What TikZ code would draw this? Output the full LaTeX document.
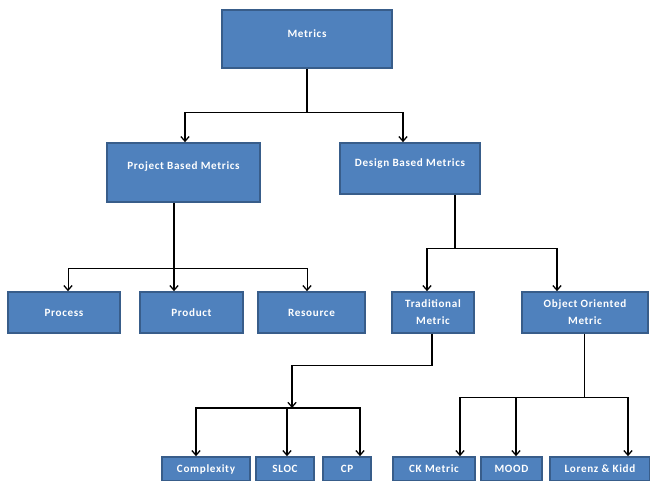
\documentclass[tikz,border=0pt]{standalone}
\usepackage{fontspec}
\setmainfont{Carlito}[LetterSpace=6]
\usetikzlibrary{arrows.meta,calc}

\definecolor{boxfill}{HTML}{4F81BD}
\definecolor{boxline}{HTML}{385D8A}

\tikzset{
  box/.style 2 args={draw=boxline, fill=boxfill, line width=1.4pt, text=white,
    font=\fontsize{9.5}{14.5}\selectfont\bfseries, align=center, inner sep=0pt,
    minimum width=#1*0.03cm, minimum height=#2*0.03cm},
  raised/.style={text depth=#1},
  link/.style={line width=1.1pt, black},
  arr/.style={link, -{Straight Barb[length=4pt,width=7pt,line width=1.1pt]}}
}

\begin{document}
\begin{tikzpicture}[x=0.03cm, y=-0.03cm]
\clip (0,0) rectangle (650,481);

\node[box={170}{58}, raised=10pt] (metrics) at (307,39) {Metrics};
\node[box={153}{59}, raised=11pt] (project) at (183.5,172.5) {Project Based Metrics};
\node[box={140}{51}, raised=9.5pt] (design) at (410,168.5) {Design Based Metrics};

\node[box={112}{41}] (process) at (64,312.5) {Process};
\node[box={103}{41}] (product) at (191.5,312.5) {Product};
\node[box={107}{41}] (resource) at (311.5,312.5) {Resource};
\node[box={82}{41}] (trad) at (433,312.5) {Traditional\\Metric};
\node[box={126}{41}] (oo) at (585,312.5) {Object Oriented\\Metric};

\node[box={88}{24}] (complexity) at (206,469) {Complexity};
\node[box={58}{24}] (sloc) at (285,469) {SLOC};
\node[box={48}{24}] (cp) at (347,469) {CP};
\node[box={82}{24}] (ck) at (434,469) {CK Metric};
\node[box={61}{24}] (mood) at (511.5,469) {MOOD};
\node[box={100}{24}] (lorenz) at (600,469) {Lorenz \& Kidd};

\draw[link] (metrics.south) -- ++(0,44) coordinate (mj);
\draw[arr] (mj) -| ($(project.north)+(1.5,0)$);
\draw[arr] (mj) -| ($(design.north)+(-7,0)$);

\draw[arr] ($(project.south)+(-9.5,0)$) -- ($(product.north)+(-17.5,0)$);
\coordinate (pj) at (174,268);
\draw[arr, line width=0.8pt] (pj) -| ($(process.north)+(4,0)$);
\draw[arr, line width=0.8pt] (pj) -| ($(resource.north)+(-4.5,0)$);

\draw[link] ($(design.south)+(45,0)$) -- ++(0,54) coordinate (dj);
\draw[arr] (dj) -| ($(trad.north)+(-6,0)$);
\draw[arr] (dj) -| ($(oo.north)+(-28,0)$);

\coordinate (tj) at (292,408);
\draw[arr] ($(trad.south)+(-1,0)$) -- ++(0,32) -| (tj);
\draw[arr] (tj) -| ($(complexity.north)+(-10,0)$);
\draw[arr] (tj) -| ($(sloc.north)+(2,0)$);
\draw[arr] (tj) -| ($(cp.north)+(13,0)$);

\draw[line width=0.5pt] ($(oo.south)+(-1,0)$) -- ++(0,64) coordinate (oj);
\draw[arr] (oj) -| ($(ck.north)+(26,0)$);
\draw[arr] (oj) -| ($(mood.north)+(4.5,0)$);
\draw[arr] (oj) -| ($(lorenz.north)+(28,0)$);
\end{tikzpicture}
\end{document}
